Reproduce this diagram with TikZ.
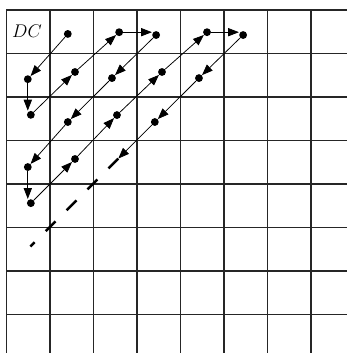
\documentclass[tikz,border=0pt]{standalone}
\usetikzlibrary{arrows.meta}
\begin{document}
\begin{tikzpicture}[
  dot/.style={circle, fill, inner sep=0pt, minimum size=1.8mm},
  zz/.style={-{Triangle[length=2.5mm,width=1.9mm]}, line width=0.5pt},
  rest/.style={line width=1.6pt, dash pattern=on 0.32cm off 0.36cm},
  cell/.style={line width=1pt, black!85}
]
\useasboundingbox (-0.149, 0.23) rectangle (7.828, -7.885);
% grid of coefficients
\foreach \i in {0,...,7} {
  \draw[cell] (\i, 0) -- (\i, -7.885);
  \draw[cell] (0, -\i) -- (7.828, -\i);
}
\node[font=\large] (dc) at (0.47, -0.49) {$DC$};
% coefficients on the scan
\node[dot] (d10) at (1.41, -0.55) {};
\node[dot] (d01) at (0.49, -1.59) {};
\node[dot] (d02) at (0.56, -2.41) {};
\node[dot] (d11) at (1.575, -1.425) {};
\node[dot] (d20) at (2.59, -0.51) {};
\node[dot] (d30) at (3.44, -0.575) {};
\node[dot] (d21) at (2.425, -1.565) {};
\node[dot] (d12) at (1.41, -2.575) {};
\node[dot] (d03) at (0.49, -3.61) {};
\node[dot] (d04) at (0.56, -4.44) {};
\node[dot] (d13) at (1.575, -3.425) {};
\node[dot] (d22) at (2.54, -2.415) {};
\node[dot] (d31) at (3.575, -1.425) {};
\node[dot] (d40) at (4.61, -0.51) {};
\node[dot] (d50) at (5.44, -0.575) {};
\node[dot] (d41) at (4.425, -1.565) {};
\node[dot] (d32) at (3.41, -2.575) {};
\coordinate (c23) at (2.57, -3.415);
\coordinate (c05) at (0.55, -5.435);
% zigzag scan
\draw[zz] (d10) -- (d01);
\draw[zz] (d01) -- (d01 |- d02.north);
\draw[zz] (d02) -- (d11);
\draw[zz] (d11) -- (d20);
\draw[zz] (d20) -- (d20 -| d30.west);
\draw[zz] (d30) -- (d21);
\draw[zz] (d21) -- (d12);
\draw[zz] (d12) -- (d03);
\draw[zz] (d03) -- (d03 |- d04.north);
\draw[zz] (d04) -- (d13);
\draw[zz] (d13) -- (d22);
\draw[zz] (d22) -- (d31);
\draw[zz] (d31) -- (d40);
\draw[zz] (d40) -- (d40 -| d50.west);
\draw[zz] (d50) -- (d41);
\draw[zz] (d41) -- (d32);
\draw[zz] (d32) -- (c23);
\draw[rest] (c23) -- (c05);
\end{tikzpicture}
\end{document}
